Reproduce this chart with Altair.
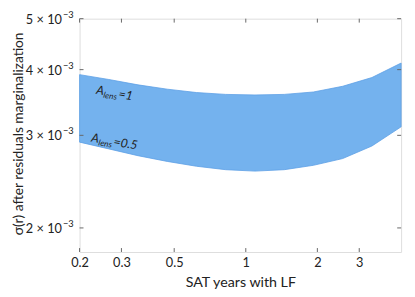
import altair as alt
import pandas as pd

# SAT years with LF (x)
years = [0.2, 0.2654, 0.3523, 0.4676, 0.6206, 0.8236, 1.0931, 1.4508, 1.9255, 2.5555, 3.3917, 4.5]
# sigma(r) for A_lens = 1 (upper edge) and A_lens = 0.5 (lower edge)
sigma_alens1 = [3.913e-3, 3.831e-3, 3.742e-3, 3.672e-3, 3.618e-3, 3.589e-3, 3.580e-3, 3.589e-3, 3.627e-3, 3.719e-3, 3.864e-3, 4.117e-3]
sigma_alens05 = [2.912e-3, 2.827e-3, 2.744e-3, 2.676e-3, 2.620e-3, 2.581e-3, 2.565e-3, 2.581e-3, 2.631e-3, 2.710e-3, 2.863e-3, 3.114e-3]

x_ticks = [0.2, 0.3, 0.5, 1, 2, 3]
y_ticks = [2e-3, 3e-3, 4e-3, 5e-3]
y_tick_base = ["2 × 10", "3 × 10", "4 × 10", "5 × 10"]
y_tick_exp = ["−3", "−3", "−3", "−3"]

# annotation pieces: A, subscript "lens", "=value"
ann_value = ["=1", "=0.5"]
ann_x = [0.2354, 0.2244]
ann_y = [3.66e-3, 2.97e-3]

XDOM = [0.2, 4.5]
YDOM = [1.8e-3, 5e-3]
W, H = 328, 238
FONT = "Lato"
FRAME = "#666666"
TXT = "#222222"

band_df = pd.DataFrame({"x": years, "lo": sigma_alens05, "hi": sigma_alens1})
xt_df = pd.DataFrame({"x": x_ticks})
yt_df = pd.DataFrame({"y": y_ticks, "base": y_tick_base, "exp": y_tick_exp})
ann_df = pd.DataFrame({"x": ann_x, "y": ann_y, "val": ann_value})

xscale = alt.Scale(type="log", domain=XDOM, nice=False)
yscale = alt.Scale(type="log", domain=YDOM, nice=False)

band = alt.Chart(band_df).mark_area(color="#74b2ee", opacity=1, stroke="#5c9fe6", strokeWidth=0.8).encode(
    x=alt.X("x:Q", scale=xscale,
            axis=alt.Axis(values=x_ticks, format="~g", ticks=False, domain=False, grid=False,
                          labelFont=FONT, labelFontSize=13, labelColor=TXT, labelPadding=5,
                          labelFlush=False, labelOverlap=False,
                          title="SAT years with LF", titleFont=FONT, titleFontSize=14.5,
                          titleFontWeight="normal", titleColor=TXT, titlePadding=6)),
    y=alt.Y("hi:Q", scale=yscale,
            axis=alt.Axis(values=y_ticks, labels=False, ticks=False, domain=False, grid=False,
                          title="σ(r) after residuals marginalization", titleFont=FONT,
                          titleFontSize=14, titleFontWeight="normal", titleColor=TXT,
                          titleX=-62, titleY=117, titleAngle=-90, titleBaseline="middle", titleAlign="center")),
    y2="lo:Q",
)

tl = 4
xb = alt.Chart(xt_df).mark_rule(color=FRAME, strokeWidth=1).encode(
    x=alt.X("x:Q", scale=xscale), y=alt.value(H), y2=alt.value(H - tl))
xtop = alt.Chart(xt_df).mark_rule(color=FRAME, strokeWidth=1).encode(
    x=alt.X("x:Q", scale=xscale), y=alt.value(0), y2=alt.value(tl))
yl = alt.Chart(yt_df).mark_rule(color=FRAME, strokeWidth=1).encode(
    y=alt.Y("y:Q", scale=yscale), x=alt.value(0), x2=alt.value(tl))
yr = alt.Chart(yt_df).mark_rule(color=FRAME, strokeWidth=1).encode(
    y=alt.Y("y:Q", scale=yscale), x=alt.value(W), x2=alt.value(W - tl))

ylab_base = alt.Chart(yt_df).mark_text(align="right", baseline="middle", font=FONT, fontSize=13,
                                       color=TXT, dy=1).encode(
    y=alt.Y("y:Q", scale=yscale), x=alt.value(-18), text="base:N")
ylab_exp = alt.Chart(yt_df).mark_text(align="left", baseline="middle", font=FONT, fontSize=9.5,
                                      color=TXT, dy=-4).encode(
    y=alt.Y("y:Q", scale=yscale), x=alt.value(-17), text="exp:N")

ann_common = dict(align="left", baseline="middle", angle=10, font=FONT, fontStyle="italic", color=TXT)
ann_A = alt.Chart(ann_df).mark_text(fontSize=12.5, **ann_common).encode(
    x=alt.X("x:Q", scale=xscale), y=alt.Y("y:Q", scale=yscale), text=alt.value("A"))
ann_sub = alt.Chart(ann_df).mark_text(fontSize=8.5, dx=8, dy=3.5, **ann_common).encode(
    x=alt.X("x:Q", scale=xscale), y=alt.Y("y:Q", scale=yscale), text=alt.value("lens"))
ann_val = alt.Chart(ann_df).mark_text(fontSize=12.5, dx=23, **ann_common).encode(
    x=alt.X("x:Q", scale=xscale), y=alt.Y("y:Q", scale=yscale), text="val:N")

chart = alt.layer(band, xb, xtop, yl, yr, ylab_base, ylab_exp, ann_A, ann_sub, ann_val).properties(
    width=W, height=H,
    autosize=alt.AutoSizeParams(type="none"),
    padding={"left": 73, "top": 8, "right": 6, "bottom": 42},
).configure_view(stroke=FRAME, strokeWidth=2).configure(background="white")

chart.save("out.html", embed_options={"renderer": "svg", "actions": False})
